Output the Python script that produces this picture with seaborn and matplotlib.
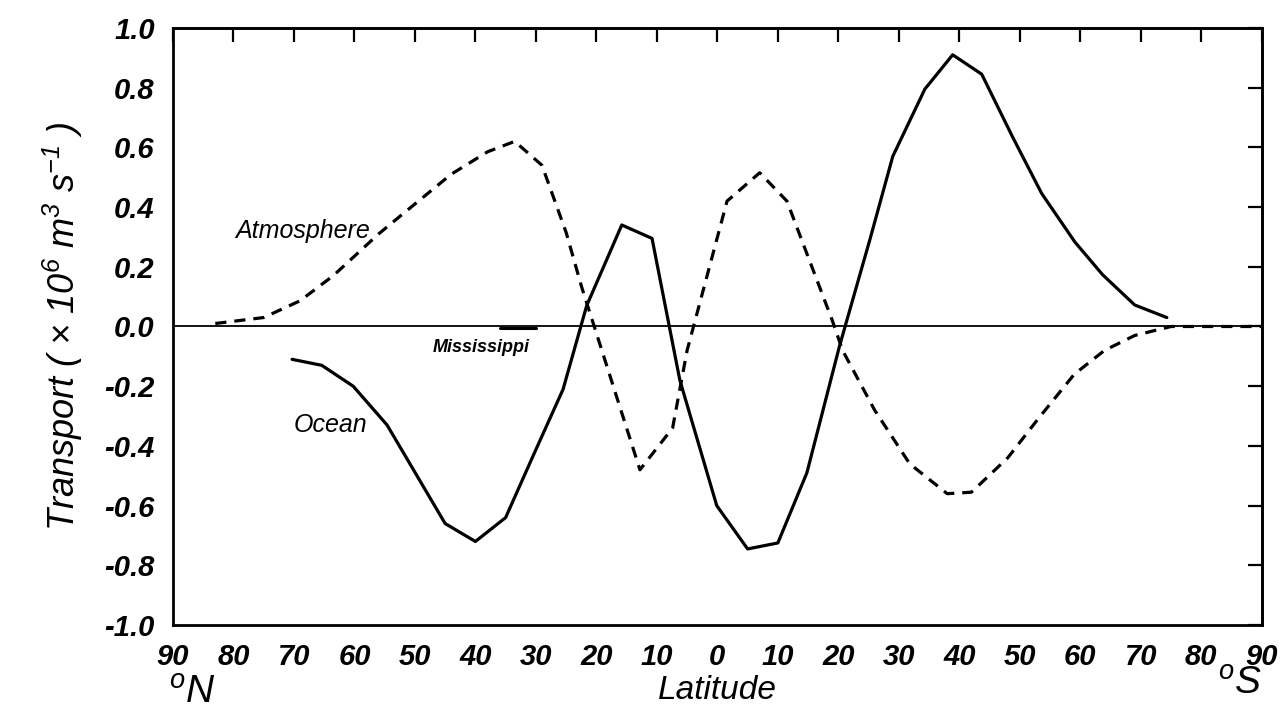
import pandas as pd
import matplotlib
matplotlib.use("Agg")
import matplotlib.pyplot as plt
import seaborn as sns

# latitude: positive = north, negative = south (axis runs 90N -> 90S)
atmos_lat = [83, 75, 69, 63.5, 56, 52, 44, 38, 33.5, 29, 25, 22.4, 12.8, 7.4, 5,
             -1.6, -7, -11.5, -19, -20.7, -26, -31.8, -38, -42, -48, -53, -59, -64,
             -69, -75, -82, -90]
atmos_val = [0.01, 0.03, 0.086, 0.17, 0.31, 0.377, 0.51, 0.585, 0.62, 0.54, 0.315,
             0.13, -0.48, -0.34, -0.08, 0.42, 0.515, 0.42, 0.02, -0.08, -0.28, -0.46,
             -0.56, -0.555, -0.44, -0.31, -0.16, -0.08, -0.03, 0.0, 0.0, 0.0]

ocean_lat = [70.3, 65.4, 60.2, 54.6, 45, 40, 35, 30.5, 25.5, 21.6, 15.8, 10.8, 6.2,
             0.1, -5, -10, -14.8, -20.2, -25.2, -29, -34.3, -38.9, -43.7, -48.8,
             -53.6, -59.1, -63.7, -69, -74.3]
ocean_val = [-0.11, -0.13, -0.2, -0.33, -0.66, -0.72, -0.64, -0.435, -0.21, 0.07,
             0.34, 0.295, -0.18, -0.6, -0.745, -0.725, -0.49, -0.065, 0.29, 0.57,
             0.795, 0.91, 0.845, 0.635, 0.446, 0.283, 0.173, 0.072, 0.03]

miss_lat = [36, 30]
miss_val = [-0.006, -0.006]

xticks = list(range(90, -91, -10))
yticks = [-1.0, -0.8, -0.6, -0.4, -0.2, 0.0, 0.2, 0.4, 0.6, 0.8, 1.0]

sns.set_style("white")
plt.rcParams['font.family'] = ['Liberation Sans', 'DejaVu Sans']
plt.rcParams['mathtext.fontset'] = 'custom'
plt.rcParams['mathtext.it'] = 'Liberation Sans:italic'
plt.rcParams['mathtext.rm'] = 'Liberation Sans:italic'
for key in ['text.color', 'axes.labelcolor', 'xtick.color', 'ytick.color']:
    plt.rcParams[key] = 'black'

atmos = pd.DataFrame({'lat': atmos_lat, 'val': atmos_val})
ocean = pd.DataFrame({'lat': ocean_lat, 'val': ocean_val})
miss = pd.DataFrame({'lat': miss_lat, 'val': miss_val})

fig = plt.figure(figsize=(12.81, 7.16), dpi=100)
ax = fig.add_axes([0.135, 0.127, 0.85, 0.834])

ax.axhline(0, color='black', lw=1.3)
sns.lineplot(data=atmos, x='lat', y='val', ax=ax, color='black', lw=2.3,
             linestyle=(0, (3.5, 2.5)), sort=False)
sns.lineplot(data=ocean, x='lat', y='val', ax=ax, color='black', lw=2.3, sort=False)
sns.lineplot(data=miss, x='lat', y='val', ax=ax, color='black', lw=2.2, sort=False)

ax.set_xlim(90, -90)
ax.set_ylim(-1.0, 1.0)
ax.set_xticks(xticks)
ax.set_xticklabels([str(abs(t)) for t in xticks])
ax.set_yticks(yticks)
ax.set_yticklabels([f"{t:.1f}" for t in yticks])

for s in ax.spines.values():
    s.set_linewidth(2)
    s.set_color('black')

ax.tick_params(axis='both', which='both', length=10, width=1.6, color='black',
               labelsize=21, pad=3)
ax.tick_params(axis='x', direction='out')
ax.tick_params(axis='y', direction='out')
top = ax.secondary_xaxis('top')
top.set_xticks(xticks)
top.tick_params(direction='in', length=10, width=1.6, labeltop=False)
sec = ax.secondary_yaxis('right')
sec.set_yticks(yticks)
sec.tick_params(direction='in', length=10, width=1.6, labelright=False)
sec.spines['right'].set_linewidth(2)
top.spines['top'].set_linewidth(2)
ax.tick_params(top=False, right=False)
for lab in ax.get_xticklabels() + ax.get_yticklabels():
    lab.set_fontstyle('italic')
    lab.set_fontweight('bold')

ax.set_xlabel('')
ax.set_ylabel(r'Transport ( $\times$ 10$^{6}$ m$^{3}$ s$^{-1}$ )', fontsize=26,
              fontstyle='italic', labelpad=14)

fig.text(0.56, 0.036, 'Latitude', fontsize=24, fontstyle='italic', ha='center', va='center')
fig.text(0.15, 0.032, r'$^{o}$N', fontsize=28, fontstyle='italic', ha='center', va='center')
fig.text(0.968, 0.045, r'$^{o}$S', fontsize=28, fontstyle='italic', ha='center', va='center')

ax.text(68.5, 0.32, 'Atmosphere', fontsize=18, fontstyle='italic', ha='center', va='center')
ax.text(64, -0.33, 'Ocean', fontsize=18, fontstyle='italic', ha='center', va='center')
ax.text(39, -0.07, 'Mississippi', fontsize=13, fontstyle='italic', fontweight='bold',
        ha='center', va='center')

fig.savefig('out.png', dpi=100)
